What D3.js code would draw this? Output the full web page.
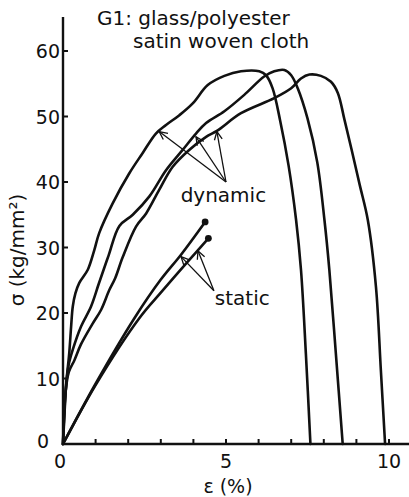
<!DOCTYPE html>
<html>
<head>
<meta charset="utf-8">
<script src="https://cdn.jsdelivr.net/npm/d3@7"></script>
<style>
  html, body { margin: 0; padding: 0; background: #fff; }
  svg { display: block; }
  text { font-family: "DejaVu Sans", sans-serif; fill: #111; }
</style>
</head>
<body>
<svg id="chart" width="409" height="497"></svg>
<script>
// Stress-strain curves of G1 glass/polyester satin woven cloth
// strain ε in %, stress σ in kg/mm²

const dynamicA = [
  [0, 0], [0.05, 5], [0.1, 9.3], [0.19, 13.8], [0.25, 18], [0.3, 21], [0.38, 23],
  [0.5, 24.6], [0.76, 26.6], [0.96, 29.6], [1.11, 32.2], [1.52, 36.7], [2.03, 41.3],
  [2.44, 44.4], [2.85, 47.4], [3.16, 48.7], [3.57, 50.2], [3.98, 52.0], [4.44, 54.8],
  [4.95, 56.2], [5.46, 56.9], [6.02, 56.9], [6.23, 56.3], [6.43, 54.3], [6.66, 49.4],
  [6.92, 42.5], [7.15, 34.2], [7.3, 26.6], [7.45, 13.8], [7.59, 0]
];
const dynamicB = [
  [0, 0], [0.08, 8], [0.17, 12], [0.3, 14.4], [0.55, 17.9], [0.86, 21.0], [1.1, 24.5],
  [1.4, 28.8], [1.73, 33.3], [2.14, 35.0], [2.65, 37.8], [3.16, 41.8], [3.67, 44.9],
  [4.08, 47.4], [4.39, 49.0], [4.95, 50.8], [5.56, 53.3], [6.17, 56.1], [6.48, 56.9],
  [6.79, 57.1], [7.0, 56.3], [7.2, 54.3], [7.5, 49.7], [7.8, 43.0], [8.02, 34.2],
  [8.17, 26.6], [8.37, 13.8], [8.58, 0]
];
const dynamicC = [
  [0, 0], [0.08, 8], [0.18, 11], [0.35, 12.8], [0.55, 15.2], [0.9, 18.3], [1.17, 20.5],
  [1.42, 23.5], [1.6, 25.3], [1.83, 28.5], [2.24, 33.2], [2.55, 35.2], [2.95, 38.8],
  [3.36, 42.3], [3.87, 44.9], [4.39, 46.9], [4.72, 47.8], [5.46, 50.5], [6.48, 52.8],
  [7.0, 54.3], [7.3, 55.8], [7.56, 56.4], [7.91, 56.2], [8.22, 55.3], [8.43, 53.6],
  [8.63, 49.6], [8.85, 45.0], [9.1, 39.6], [9.35, 34.2], [9.6, 24.0], [9.75, 11.3], [9.88, 0]
];
const staticA = [
  [0, 0], [1.0, 9.2], [2.19, 19.2], [3.0, 25.1], [3.62, 28.9], [4.36, 33.9]
];
const staticB = [
  [0, 0], [1.0, 9.0], [2.34, 19.2], [3.0, 23.1], [3.82, 27.8], [4.46, 31.4]
];

// annotation anchors (label point → arrow tips), in data units
const dynamicLabel = { text: "dynamic", at: [4.92, 36.9], from: [5.0, 40.0],
  tips: [[2.95, 47.7], [4.08, 46.9], [4.72, 47.7]] };
const staticLabel = { text: "static", at: [5.5, 21.2], from: [4.63, 23.4],
  tips: [[3.62, 28.6], [4.14, 29.5]] };

const xTicks = [0, 1, 2, 3, 4, 5, 6, 7, 8, 9, 10];
const xTickLabels = [0, 5, 10];
const yTicks = [0, 10, 20, 30, 40, 50, 60];

const titleLines = ["G1: glass/polyester", "satin woven cloth"];

const svg = d3.select("#chart");
const x = d3.scaleLinear().domain([0, 10]).range([63, 389]);
const y = d3.scaleLinear().domain([0, 60]).range([444, 51]);

const ink = "#111";

// axes
const g = svg.append("g");
g.append("line").attr("x1", x(0)).attr("x2", x(0)).attr("y1", y(0) + 1).attr("y2", 17)
  .attr("stroke", ink).attr("stroke-width", 2.4);
g.append("line").attr("x1", x(0) - 1).attr("x2", 409).attr("y1", y(0)).attr("y2", y(0))
  .attr("stroke", ink).attr("stroke-width", 2.4);

g.selectAll(".xt").data(xTicks.filter(d => d > 0)).enter().append("line")
  .attr("x1", d => x(d)).attr("x2", d => x(d)).attr("y1", y(0)).attr("y2", y(0) - 5)
  .attr("stroke", ink).attr("stroke-width", 2);
g.selectAll(".yt").data(yTicks.filter(d => d > 0)).enter().append("line")
  .attr("x1", x(0)).attr("x2", x(0) + 5).attr("y1", d => y(d)).attr("y2", d => y(d))
  .attr("stroke", ink).attr("stroke-width", 2);

g.selectAll(".xl").data(xTickLabels).enter().append("text")
  .attr("x", d => x(d) - (d === 0 ? 3 : 0)).attr("y", y(0) + 24)
  .attr("text-anchor", "middle").attr("font-size", 19).text(d => d);
g.selectAll(".yl").data(yTicks).enter().append("text")
  .attr("x", d => x(0) - (d === 0 ? 14 : 3)).attr("y", d => y(d) + 7 - (d === 0 ? 3 : 0))
  .attr("text-anchor", "end").attr("font-size", 19).text(d => d);

// axis titles
svg.append("text").attr("x", 228).attr("y", 493).attr("text-anchor", "middle")
  .attr("font-size", 19).text("ε (%)");
svg.append("text").attr("transform", "translate(24,250) rotate(-90)")
  .attr("text-anchor", "middle").attr("font-size", 20).text("σ (kg/mm²)");

// title
svg.append("text").attr("x", 97).attr("y", 25).attr("font-size", 20).text(titleLines[0]);
svg.append("text").attr("x", 133).attr("y", 48).attr("font-size", 20).text(titleLines[1]);

// curves
const line = d3.line().x(d => x(d[0])).y(d => y(d[1])).curve(d3.curveCatmullRom.alpha(0.5));
[dynamicA, dynamicB, dynamicC, staticA, staticB].forEach(s => {
  svg.append("path").datum(s).attr("d", line)
    .attr("fill", "none").attr("stroke", ink).attr("stroke-width", 2.6)
    .attr("stroke-linejoin", "round").attr("stroke-linecap", "round");
});
// end points of static tests
svg.selectAll(".dot").data([staticA[staticA.length - 1], staticB[staticB.length - 1]])
  .enter().append("circle")
  .attr("cx", d => x(d[0])).attr("cy", d => y(d[1])).attr("r", 3.4).attr("fill", ink);

// labels with arrows
function arrows(lab) {
  const [fx, fy] = [x(lab.from[0]), y(lab.from[1])];
  lab.tips.forEach(t => {
    const tx = x(t[0]), ty = y(t[1]);
    svg.append("line").attr("x1", fx).attr("y1", fy).attr("x2", tx).attr("y2", ty)
      .attr("stroke", ink).attr("stroke-width", 1.3);
    const ang = Math.atan2(fy - ty, fx - tx);
    const len = 9, spread = 0.45;
    const p = [ang - spread, ang + spread].map(a => [tx + len * Math.cos(a), ty + len * Math.sin(a)]);
    svg.append("path").attr("d", `M${p[0][0]},${p[0][1]}L${tx},${ty}L${p[1][0]},${p[1][1]}`)
      .attr("fill", "none").attr("stroke", ink).attr("stroke-width", 1.3);
  });
  svg.append("text").attr("x", x(lab.at[0])).attr("y", y(lab.at[1]))
    .attr("text-anchor", "middle").attr("font-size", 20).text(lab.text);
}
arrows(dynamicLabel);
arrows(staticLabel);
</script>
</body>
</html>
